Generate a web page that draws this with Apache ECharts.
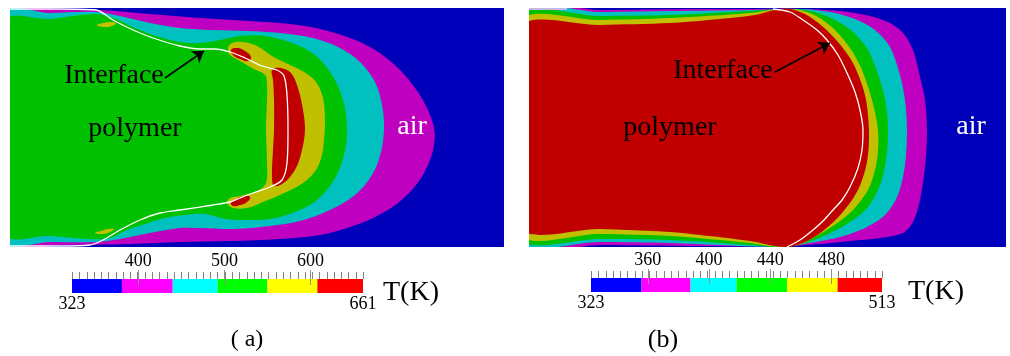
<!DOCTYPE html>
<html><head><meta charset="utf-8">
<script src="https://cdn.jsdelivr.net/npm/echarts@6/dist/echarts.min.js"></script>
<style>html,body{margin:0;padding:0;background:#fff}#c{width:1010px;height:356px}</style>
</head><body><div id="c"></div>
<script>
// ---------- Panel (a): isotherm boundaries (axial position, radial position) ----------
const aMagenta = [[-5,119],[50,119],[90,118],[140,114],[190,110],[240,107],[280,104],[310,99],[340,90],[365,78],[388,60],[405,40],[417,20],[424,0],[424,-17],[418,-37],[406,-57],[388,-75],[365,-89],[340,-99],[310,-107],[270,-111],[220,-113],[170,-114],[120,-116],[50,-117],[-5,-117]];
const aCyan = [[-5,115],[40,115],[85,116],[110,112],[140,105],[170,100],[203,98],[237,97],[270,95],[303,90],[330,80],[350,66],[365,46],[372,23],[374,0],[371,-24],[362,-47],[345,-67],[320,-82],[290,-93],[260,-98],[225,-101],[190,-100],[170,-100],[140,-105],[110,-111],[85,-114],[40,-114],[-5,-113]];
const aGreen = [[-5,106],[40,109],[85,114],[103,110],[123,101],[143,93],[170,86],[190,85],[210,88],[230,92],[255,92],[282,85],[305,73],[322,53],[333,28],[337,0],[334,-27],[324,-52],[307,-72],[285,-84],[260,-91],[235,-92],[215,-91],[195,-86],[175,-87],[155,-90],[135,-96],[117,-102],[100,-110],[80,-111],[40,-108],[-5,-105]];
const aYellow = [[218,80],[222,85],[233,86],[247,82],[262,72],[278,64],[294,56],[306,46],[313,30],[315,8],[314,-12],[312,-27],[306,-42],[293,-55],[272,-66],[253,-74],[237,-80],[223,-80],[217,-75],[220,-70],[230,-68],[247,-63],[256,-55],[257,-35],[256,-2],[257,28],[257,43],[255,53],[242,60],[230,67],[220,73]];
const aRed = [[262,58],[271,60],[281,55],[288,40],[293,18],[295,-2],[292,-22],[286,-40],[275,-54],[264,-58],[262,-47],[263,-22],[264,-2],[264,28],[263,48]];
const aRedTop = [[221,78],[227,80],[235,77],[241,71],[238,67],[230,69],[223,73]];
const aRedBottom = [[221,-75],[226,-71],[234,-68],[240,-69],[237,-74],[230,-77],[223,-78]];
const aYellowTop = [[87,103],[93,105],[100,106],[106,105],[102,102],[94,101]];
const aYellowBottom = [[85,-105],[91,-103],[98,-101],[104,-101],[100,-104],[92,-106]];
const aInterface = [[0,119],[50,119],[86,118],[103,108],[123,98],[143,90],[170,82],[190,79],[205,79],[220,76],[235,70],[252,62],[267,58],[274,52],[277,33],[278,-2],[277,-35],[272,-52],[260,-59],[243,-65],[230,-70],[220,-74],[203,-77],[170,-82],[150,-85],[130,-92],[110,-102],[93,-112],[80,-117],[50,-118],[0,-118]];
const aArrow = [[155,50],[194,77]];
const aLabels = [{name:'Interface', value:[104,52], c:'#000'},{name:'polymer', value:[125,-1], c:'#000'},{name:'air', value:[402,1], c:'#fff'}];

// ---------- Panel (b) ----------
const bMagenta = [[-9,118],[71,118],[171,119],[231,119],[271,119],[311,117],[341,112],[361,105],[374,95],[384,78],[391,51],[396,28],[398,-5],[396,-39],[391,-72],[384,-94],[374,-105],[351,-110],[321,-113],[291,-116],[251,-118],[171,-118],[71,-117],[-9,-116]];
const bCyan = [[-9,115.5],[71,116],[141,117],[221,118],[271,119],[301,116],[326,109],[346,98],[361,81],[371,53],[376,28],[378,-2],[376,-37],[369,-67],[356,-87],[336,-100],[311,-109],[281,-115],[251,-119],[141,-115],[71,-114],[-9,-112]];
const bGreen = [[-9,111],[71,112],[141,113],[221,117],[261,119],[286,116],[306,108],[324,96],[339,78],[351,48],[357,23],[359,-2],[357,-32],[351,-57],[339,-79],[321,-94],[299,-106],[276,-115],[251,-119],[221,-117],[141,-112],[71,-111],[-9,-109]];
const bYellow = [[-9,106],[71,108],[141,110],[221,115],[251,119],[271,118],[289,111],[306,98],[321,80],[333,58],[343,28],[349,-2],[348,-32],[340,-60],[324,-82],[304,-98],[284,-110],[266,-118],[241,-118],[221,-115],[141,-108],[71,-106],[-9,-105]];
const bRed = [[-9,100],[71,103],[141,105],[191,109],[226,113],[246,118],[261,119],[276,114],[293,102],[309,86],[324,65],[336,33],[340,-2],[338,-34],[329,-62],[313,-85],[294,-103],[276,-114],[261,-119],[246,-118],[221,-113],[171,-107],[141,-104],[71,-101],[-9,-99]];
const bInterface = [[244,119],[261,116],[274,108],[288,98],[298,88],[309,73],[318,55],[326,36],[331,18],[334,-2],[333,-22],[329,-40],[321,-59],[313,-72],[304,-82],[294,-93],[284,-102],[271,-112],[258,-119]];
const bWall = [[0,119],[38,119]];
const bArrow = [[246,56],[301,85]];
const bLabels = [{name:'Interface', value:[194,57], c:'#000'},{name:'polymer', value:[141,0], c:'#000'},{name:'air', value:[442,1], c:'#fff'}];

// ---------- Colour bars ----------
const cbALevels = [323, 381, 440, 492, 550, 608, 661];
const cbATickLabels = [400, 500, 600];
const cbAEndLabels = [323, 661];
const cbBLevels = [323, 356, 388, 418, 451, 484, 513];
const cbBTickLabels = [360, 400, 440, 480];
const cbBEndLabels = [323, 513];
const barColors = ['#0000ff','#ff00ff','#00ffff','#00ff00','#ffff00','#ff0000'];
const fieldColors = {air:'#0000bb', m:'#c000c0', c:'#00c0c0', g:'#00c000', y:'#c0c000', r:'#c00000'};

const SERIF = 'Liberation Serif';
function minorTicks(lo, hi, n){ const a=[]; for(let i=0;i<=n;i++) a.push(lo+(hi-lo)*i/n); return a; }

const regionsA = [
  {pts:aMagenta, color:fieldColors.m, s:0.35},
  {pts:aCyan, color:fieldColors.c, s:0.35},
  {pts:aGreen, color:fieldColors.g, s:0.35},
  {pts:aYellowTop, color:fieldColors.y, s:0.5},
  {pts:aYellowBottom, color:fieldColors.y, s:0.5},
  {pts:aYellow, color:fieldColors.y, s:0.35},
  {pts:aRed, color:fieldColors.r, s:0.35},
  {pts:aRedTop, color:fieldColors.r, s:0.5},
  {pts:aRedBottom, color:fieldColors.r, s:0.5}
];
const regionsB = [
  {pts:bMagenta, color:fieldColors.m, s:0.3},
  {pts:bCyan, color:fieldColors.c, s:0.3},
  {pts:bGreen, color:fieldColors.g, s:0.3},
  {pts:bYellow, color:fieldColors.y, s:0.3},
  {pts:bRed, color:fieldColors.r, s:0.3}
];

function regionSeries(regions, idx){
  return {type:'custom', xAxisIndex:idx, yAxisIndex:idx, clip:true, silent:true, z:1,
    data: regions.map(()=>[0,0]),
    renderItem(params, api){
      const r = regions[params.dataIndex];
      return {type:'polygon', shape:{points:r.pts.map(p=>api.coord(p)), smooth:r.s}, style:{fill:r.color}};
    }};
}
function interfaceSeries(pts, idx, arrow){
  const s = {type:'line', xAxisIndex:idx, yAxisIndex:idx, data:pts, smooth:0.3, symbol:'none', silent:true, z:3,
    lineStyle:{color:'#ffffff', width:1.3}};
  if (arrow) s.markLine = {silent:true, symbol:['none','arrow'], symbolSize:11, animation:false,
    lineStyle:{color:'#000', width:1.6, type:'solid'}, label:{show:false},
    data:[[{coord:arrow[0]},{coord:arrow[1]}]]};
  return s;
}
function labelSeries(items, idx){
  return {type:'scatter', xAxisIndex:idx, yAxisIndex:idx, symbolSize:0, silent:true, z:5,
    itemStyle:{color:'rgba(0,0,0,0)', opacity:1},
    data: items.map(it=>({name:it.name, value:it.value, label:{color:it.c}})),
    label:{show:true, position:'inside', formatter:'{b}', fontFamily:SERIF, fontSize:28, opacity:1}};
}
function barSeries(levels, xi, yi){
  return {type:'custom', xAxisIndex:xi, yAxisIndex:yi, silent:true, z:1,
    encode:{x:[0,1]},
    data: levels.slice(0,-1).map((lo,i)=>[lo, levels[i+1]]),
    renderItem(params, api){
      const p0 = api.coord([api.value(0), 0]);
      const p1 = api.coord([api.value(1), 1]);
      return {type:'rect', shape:{x:p0[0], y:p1[1], width:p1[0]-p0[0], height:p0[1]-p1[1]},
        style:{fill:barColors[params.dataIndex]}};
    }};
}
function tickSeries(values, xi, yi, up, down, color){
  return {type:'custom', xAxisIndex:xi, yAxisIndex:yi, silent:true, z:4,
    data: values.map(v=>[v,1]),
    renderItem(params, api){
      const p = api.coord([api.value(0), 1]);
      const x = Math.round(p[0]) + 0.5;
      return {type:'line', shape:{x1:x, y1:p[1]-up, x2:x, y2:p[1]+down}, style:{stroke:color, lineWidth:1}};
    }};
}
function cbAxes(grid, levels, tickLabels, endLabels, gap){
  const lo = levels[0], hi = levels[levels.length-1];
  return [
    {type:'value', gridIndex:grid, min:lo, max:hi, position:'top', axisLine:{show:false}, splitLine:{show:false},
      axisTick:{show:false},
      axisLabel:{show:true, customValues:tickLabels, fontFamily:SERIF, fontSize:18, color:'#000', margin:9}},
    {type:'value', gridIndex:grid, min:lo, max:hi, position:'bottom', axisLine:{show:false}, splitLine:{show:false},
      axisTick:{show:false},
      axisLabel:{show:true, customValues:endLabels, fontFamily:SERIF, fontSize:18, color:'#000', margin:2},
      name:'T(K)', nameLocation:'end', nameGap:gap,
      nameTextStyle:{fontFamily:SERIF, fontSize:28, color:'#000', align:'left', verticalAlign:'middle', padding:[0,0,3,0]}}
  ];
}

const chart = echarts.init(document.getElementById('c'), null, {renderer:'canvas'});
const xAxesCB = [].concat(cbAxes(2, cbALevels, cbATickLabels, cbAEndLabels, 20), cbAxes(3, cbBLevels, cbBTickLabels, cbBEndLabels, 26));
const ticksA = minorTicks(cbALevels[0], cbALevels[cbALevels.length-1], 40);
const ticksB = minorTicks(cbBLevels[0], cbBLevels[cbBLevels.length-1], 40);
chart.setOption({
  animation:false,
  backgroundColor:'#fff',
  grid:[
    {left:10, top:8, width:494, height:239, show:true, backgroundColor:fieldColors.air, borderWidth:0},
    {left:529, top:8, width:477, height:239, show:true, backgroundColor:fieldColors.air, borderWidth:0},
    {left:72, top:279, width:291, height:14},
    {left:591, top:278, width:291, height:14}
  ],
  xAxis:[
    {type:'value', gridIndex:0, min:0, max:494, show:false},
    {type:'value', gridIndex:1, min:0, max:477, show:false}
  ].concat(xAxesCB),
  yAxis:[
    {type:'value', gridIndex:0, min:-119, max:120, show:false},
    {type:'value', gridIndex:1, min:-119, max:120, show:false},
    {type:'value', gridIndex:2, min:0, max:1, show:false},
    {type:'value', gridIndex:3, min:0, max:1, show:false}
  ],
  graphic:[
    {type:'text', x:247, y:340, style:{text:'( a)', fontFamily:SERIF, fontSize:24, fill:'#000', align:'center', verticalAlign:'middle'}},
    {type:'text', x:663, y:340, style:{text:'(b)', fontFamily:SERIF, fontSize:26, fill:'#000', align:'center', verticalAlign:'middle'}}
  ],
  series:[
    regionSeries(regionsA, 0),
    interfaceSeries(aInterface, 0, aArrow),
    labelSeries(aLabels, 0),
    regionSeries(regionsB, 1),
    interfaceSeries(bInterface, 1, bArrow),
    {type:'line', xAxisIndex:1, yAxisIndex:1, data:bWall, symbol:'none', silent:true, z:3, lineStyle:{color:'#c8b8e8', width:2}},
    labelSeries(bLabels, 1),
    barSeries(cbALevels, 2, 2),
    tickSeries(ticksA, 2, 2, 7, 0, '#808080'),
    tickSeries(cbATickLabels, 2, 2, 9, 6, '#909090'),
    barSeries(cbBLevels, 4, 3),
    tickSeries(ticksB, 4, 3, 7, 0, '#808080'),
    tickSeries(cbBTickLabels, 4, 3, 9, 6, '#909090')
  ]
});
</script></body></html>
